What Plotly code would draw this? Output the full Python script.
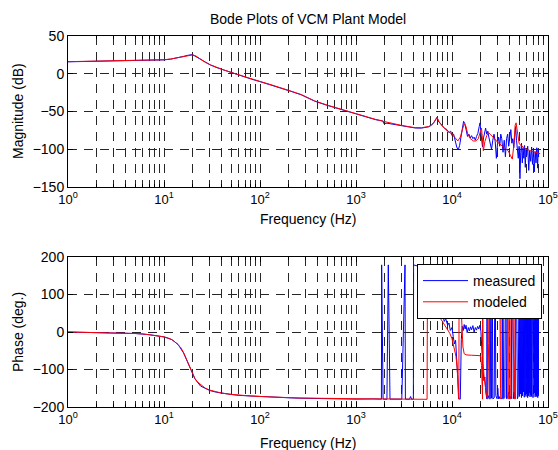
import plotly.graph_objects as go

# ---------------- data ----------------
f_mag_model = [1, 1.5, 2, 3, 4, 5.7, 8, 10, 11.7, 14, 16, 17.5, 19, 20, 21.5, 24, 27, 30.7, 36, 42,
               50, 63, 80, 102, 130, 166, 210, 268, 371, 500, 650, 828, 1000, 1300, 1600, 2000, 2500,
               3000, 3500, 4130, 4800, 5300, 5700, 6100, 6500, 6970, 7300, 7860, 8870, 10000, 10800,
               11500, 12200, 12800, 13400, 14000, 14600, 15500, 16700, 17700, 18800, 19700, 20300,
               20700, 21200, 22000, 23000, 24000, 25500, 27500, 30000, 33500, 36000, 38500, 40500,
               42500, 44000, 45500, 46500, 48000, 50000, 52000, 56000, 60000, 66000, 72000, 78000, 83000]
mag_model = [16, 16.3, 16.6, 16.9, 17.1, 17.3, 17.8, 18.6, 19.5, 21.3, 23.2, 24.5, 25.2, 25, 23.5, 19.5,
             15, 11.6, 8, 5, 1.8, -2.5, -6.5, -10.5, -14.5, -18.5, -23, -27.5, -36, -41.5, -46, -50,
             -53, -57, -60.5, -63.5, -66.5, -68.5, -70, -71.4, -71.5, -71, -70, -68, -64, -57.7, -63,
             -69, -75.4, -80, -85, -89, -84, -73, -66, -70, -80, -86, -89, -89, -86, -77, -72, -85,
             -102, -90, -82, -78, -81, -85.5, -91, -96, -98, -102, -108, -113, -95, -68, -65, -80,
             -92, -95, -98, -100, -102, -104, -105, -106]

f_mag_meas = [1, 1.5, 2, 3, 4, 5.7, 8, 10, 11.7, 14, 16, 17.5, 18.5, 19.5, 20.5, 22, 24, 27, 30.7, 36,
              42, 50, 63, 80, 102, 130, 166, 210, 268, 371, 500, 650, 828, 1000, 1300, 1600, 1900,
              1950, 2100, 2500, 3000, 3500, 4130, 4800, 5300, 5700, 6100, 6500, 6970, 7300,
              7860, 8300, 8870, 9300, 9700, 10000, 10400, 10800, 11200, 11600, 12000, 12400, 12800,
              13200, 13600, 14000, 14500, 15000, 15500, 16000, 16500, 17000, 17500, 18000, 18600,
              19200, 19600, 20000, 20400, 20800, 21300, 21800, 22400, 23000, 23600, 24200, 25000,
              25800, 26600, 27400, 28200, 29000, 29800, 30600, 31400, 32200, 33000, 34000, 35000,
              36000, 37000, 38000, 39000, 40000, 41000, 42000, 43000, 44000, 45000, 46000, 47000,
              48000, 49000, 50000, 51000, 52000, 53000, 54000, 55000, 56000, 57000, 58000, 59000,
              60000, 61500, 63000, 64500, 66000, 67500, 69000, 70500, 72000, 73500, 75000, 76500,
              78000, 79000, 80000]
mag_meas = [15.8, 16.2, 16.5, 16.8, 17, 17.2, 17.6, 18.4, 19.3, 21.0, 23.0, 24.3, 25.2, 25.3, 24.2, 22,
            19, 14.7, 11.4, 7.8, 4.8, 1.5, -2.8, -6.8, -10.8, -14.8, -18.8, -23.3, -27.8, -36.3,
            -41.8, -46.3, -50.3, -53.3, -57.3, -60.8, -62.5, -66, -65.5, -67, -69, -70.5, -71.8,
            -72, -71.5, -70.3, -68.3, -64.5, -58, -64,
            -68, -72, -74, -78, -76, -82, -80, -90, -97, -101, -95, -84, -72,
            -63, -66, -75, -83, -80, -85, -82, -86, -84, -88, -83, -79,
            -70, -65, -78, -92, -97, -85, -76, -72, -80, -76, -84, -95,
            -100, -88, -80, -90, -112, -92, -84, -96, -80, -86, -104, -88,
            -110, -86, -80, -96, -84, -74, -92, -86, -98, -78, -70, -88,
            -100, -112, -96, -139, -104, -92, -118, -98, -112, -95, -124, -100,
            -108, -96, -128, -102, -116, -97, -120, -100, -130, -103, -118, -98,
            -125, -101, -110]

f_ph_model = [1, 1.5, 2, 3, 4, 5, 6, 7, 8, 9, 10, 11, 12, 13, 14, 15, 16, 17, 18, 19, 20, 21, 22.5,
              24.6, 27, 30, 35, 40, 48.7, 60, 78.5, 100, 127, 200, 262, 400, 600, 1000, 2000, 3000,
              4000, 5500, 5560, 5700, 5900, 6100, 6300, 6600, 7000, 7500, 8000, 8500, 9000, 9500,
              10000, 10500, 11000, 11300, 11600, 11800, 11850, 12100, 12400, 12700, 13000, 13400,
              14000, 16000, 18000, 19500, 20000, 20300, 20600, 20800, 20850, 21100, 21600, 22300,
              23000, 23500, 23550, 23900, 24300, 24600, 24650, 28000, 31500, 32000, 32400, 32450,
              35000, 37800, 38200, 38500, 38550, 39800, 40200, 40250, 42500, 43000, 43800, 44500,
              45200, 45250, 50000, 60000, 70000, 83000]
ph_model = [0, -0.5, -1, -2, -3, -4, -5, -7, -9, -11, -13, -16, -20, -26, -33, -42, -55, -70, -86, -100,
            -113, -124, -134, -143, -150, -155, -160, -163, -166, -168.5, -170.5, -172, -173.5, -175,
            -176, -177, -177.5, -178, -178.5, -178.5, -179, -179.5, 179, 150, 110, 80, 60, 52, 45,
            38, 28, 16, 6, -4, -18, -40, -65, -95, -150, -179, 179, 130, 60, 0, -40, -58, -61, -62,
            -62, -63, -68, -90, -140, -179, 179, -85, -120, -150, -172, -179, 179, -30, -120, -179,
            179, 150, 120, -150, -179, 179, 150, 120, -170, -179, 179, 100, -179, 179, 120, -5, -60,
            -92, -179, 179, 150, 130, 115, 100]

f_ph_meas = [1, 2, 3, 5, 7, 10, 12, 14, 16, 18, 19.5, 21, 24, 27, 30, 35, 40, 50, 60, 80, 100, 130, 200,
             260, 400, 600, 700, 1000, 1500, 1840, 1850, 1915, 2100, 2170, 2260, 2600, 3000, 3240,
             3270, 3600, 3700, 3800, 3960, 3980, 4500, 5000, 5500, 6000, 6500, 6900, 7100, 7600,
             8000, 8300, 8600, 9000, 9300, 9600, 10000, 10300, 10600, 10900, 11200, 11500, 11700,
             12200, 12500, 12800, 13100, 13400, 13700, 14000, 14400, 14800, 15200, 15600, 16000,
             16500, 17000, 17500, 18000, 18500, 19000, 19500, 20000, 20300, 20600, 21000, 21500,
             22000, 22500, 23000, 23100, 23300, 23500, 24000, 24500, 24600, 25000, 25300, 25800,
             26000, 26300, 26600, 27500, 28000, 28300, 28600, 29500, 30000, 30500, 31000, 31500,
             32000, 33500, 33600, 34000, 34500, 35500, 36000, 36500, 37000, 38000, 39000, 40000,
             40500, 41500, 42000, 43000, 43500, 44500, 45500, 46000, 47000, 48000, 49000,
             50000, 50600, 51200, 51800, 52400, 53000, 53600, 54200, 54800, 55400, 56000, 56600,
             57200, 57800, 58400, 59000, 59600, 60200, 60800, 61400, 62000, 62600, 63200, 63800,
             64400, 65000, 65600, 66200, 66800, 67400, 68000, 68600, 69200, 69800, 70400, 71000,
             71600, 72200, 72800, 73400, 74000, 74600, 75200, 75800, 76400, 77000, 77600, 78200,
             78800, 79400, 80000]
ph_meas = [0, -1, -2, -4, -7, -13, -20, -33, -56, -88, -108, -125, -144, -151, -156, -160.5, -163.5,
           -166.5, -169, -171, -172.5, -174, -175.5, -176.5, -177.5, -178, -179.5, -179, -178.5,
           -179, 179, -179, -179.5, 179, -179, -179.5, -179, 179, -179, -179.5, -172, -179.5, -179,
           179, 175, 168, 155, 135, 105, 60, 50, 42, 46, 28, 36, 18, 24, 4, 12, -12, -32, -22, -62,
           -125, -178, -179, -20, 15, 4, 20, 8, 18, -2, 12, 3, 14, 6, 17, 0, 12, 5, 15, 8, 18, 2,
           -40, -85, -100, -130, -120, -160, -178, 178, 120, -178, -170, -178, 178, 150, -178, -176,
           178, 140, -178, -176, 178, 130, -170, -178, -150, -178, -172, -178, -176, -178, 178, 120,
           -178, -175, 178, 140, -178, -175, -160, -178, -172, -178, 178, 120, -178, -160, -178,
           178, 140, -178, -170,
           178, -172, 160, -165, 170, -175, 150, -170, 165, -160, 172, -174, 155, -168, 168, -172,
           160, -165, 170, -175, 150, -170, 165, -162, 172, -173, 158, -168, 168, -172, 160, -166,
           170, -175, 152, -170, 166, -162, 172, -173, 158, -168, 168, -172, 160, -166, 170, -175,
           152, -170, 160]

x_tick_vals = [1, 10, 100, 1000, 10000, 100000]
x_tick_text = ["10<sup>0</sup>", "10<sup>1</sup>", "10<sup>2</sup>", "10<sup>3</sup>",
               "10<sup>4</sup>", "10<sup>5</sup>"]
x_minor_vals = [m * d for d in [1, 10, 100, 1000, 10000] for m in range(2, 10)]

title_text = "Bode Plots of VCM Plant Model"
xlabel = "Frequency (Hz)"
ylabel_mag = "Magnitude (dB)"
ylabel_ph = "Phase (deg.)"

# ---------------- figure ----------------
W, H = 558, 450
ML, MR, MT, MB = 68, 10, 36, 43          # plot-area margins in px
PW, PH = W - ML - MR, H - MT - MB         # plot-area size


def px(xp):
    return (xp - ML) / PW


def py(yp):
    return (H - MB - yp) / PH


FONT = "Liberation Sans, Arial, sans-serif"
BLUE = "#0000ff"
RED = "#ff0000"
GRID = "#262626"
DASH = "9px,7px"

fig = go.Figure()
fig.add_trace(go.Scatter(x=f_mag_meas, y=mag_meas, mode="lines", line=dict(color=BLUE, width=1),
                         xaxis="x", yaxis="y", showlegend=False, name="measured"))
fig.add_trace(go.Scatter(x=f_mag_model, y=mag_model, mode="lines", line=dict(color=RED, width=1),
                         xaxis="x", yaxis="y", showlegend=False, name="modeled"))
fig.add_trace(go.Scatter(x=f_ph_meas, y=ph_meas, mode="lines", line=dict(color=BLUE, width=1),
                         xaxis="x2", yaxis="y2", name="measured"))
fig.add_trace(go.Scatter(x=f_ph_model, y=ph_model, mode="lines", line=dict(color=RED, width=1),
                         xaxis="x2", yaxis="y2", name="modeled"))

x_dom = [px(68), px(548)]
top_dom = [py(187), py(36)]
bot_dom = [py(407), py(257)]


def xaxis_cfg(anchor):
    return dict(type="log", range=[0, 5], domain=x_dom, anchor=anchor, automargin=False,
                tickmode="array", tickvals=x_tick_vals, ticktext=x_tick_text,
                ticks="inside", ticklen=5, tickcolor="black",
                showline=True, linecolor="black", linewidth=1, mirror="ticks",
                showgrid=True, gridcolor=GRID, griddash=DASH, gridwidth=1,
                minor=dict(tickmode="array", tickvals=x_minor_vals, ticks="inside", ticklen=3,
                           tickcolor="black", showgrid=True, gridcolor=GRID, griddash=DASH,
                           gridwidth=1),
                tickfont=dict(family=FONT, size=13, color="black"), zeroline=False)


def yaxis_cfg(anchor, dom, rng, dt):
    return dict(range=rng, domain=dom, anchor=anchor, dtick=dt, tick0=0, automargin=False,
                ticks="inside", ticklen=5, tickcolor="black",
                showline=True, linecolor="black", linewidth=1, mirror="ticks",
                showgrid=True, gridcolor=GRID, griddash=DASH, gridwidth=1,
                zeroline=False, tickfont=dict(family=FONT, size=14, color="black"))


fig.update_layout(
    width=W, height=H, autosize=False,
    margin=dict(l=ML, r=MR, t=MT, b=MB, pad=0, autoexpand=False),
    paper_bgcolor="white", plot_bgcolor="white",
    font=dict(family=FONT, size=14, color="black"),
    hovermode=False,
    xaxis=xaxis_cfg("y"),
    yaxis=yaxis_cfg("x", top_dom, [-150, 50], 50),
    xaxis2=xaxis_cfg("y2"),
    yaxis2=yaxis_cfg("x2", bot_dom, [-200, 200], 100),
    legend=dict(x=px(542), y=py(264), xanchor="right", yanchor="top",
                bgcolor="white", bordercolor="black", borderwidth=1,
                font=dict(family=FONT, size=14, color="black"), itemwidth=45,
                tracegroupgap=0),
    showlegend=True,
    annotations=[
        dict(text=title_text, x=px(308), y=py(19), xref="paper", yref="paper",
             showarrow=False, xanchor="center", yanchor="middle",
             font=dict(family=FONT, size=14, color="black")),
        dict(text=xlabel, x=px(308), y=py(219), xref="paper", yref="paper",
             showarrow=False, xanchor="center", yanchor="middle",
             font=dict(family=FONT, size=14, color="black")),
        dict(text=xlabel, x=px(308), y=py(443), xref="paper", yref="paper",
             showarrow=False, xanchor="center", yanchor="middle",
             font=dict(family=FONT, size=14, color="black")),
        dict(text=ylabel_mag, x=px(18), y=py(111), xref="paper", yref="paper",
             showarrow=False, xanchor="center", yanchor="middle", textangle=-90,
             font=dict(family=FONT, size=14, color="black")),
        dict(text=ylabel_ph, x=px(18), y=py(332), xref="paper", yref="paper",
             showarrow=False, xanchor="center", yanchor="middle", textangle=-90,
             font=dict(family=FONT, size=14, color="black")),
    ],
)

fig.write_html("out.html", config={"displayModeBar": False, "staticPlot": True},
               post_script="document.body.style.margin='0';document.body.style.overflow='hidden';")
